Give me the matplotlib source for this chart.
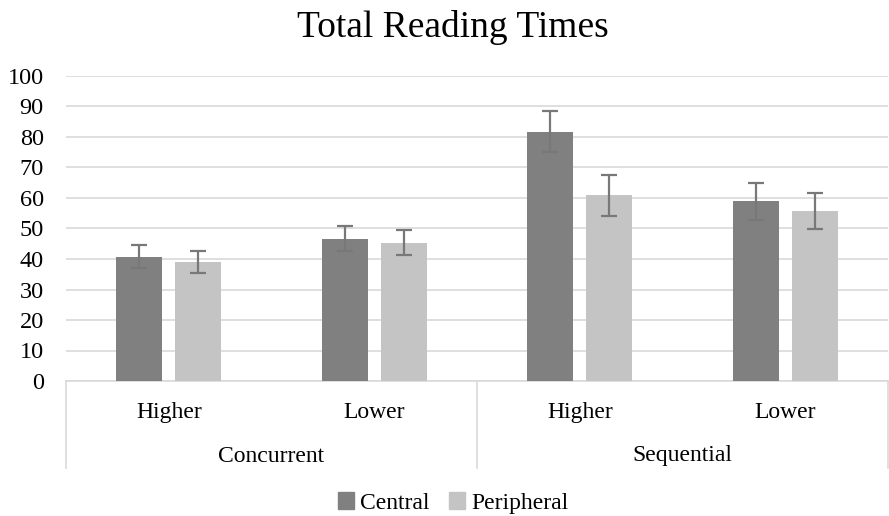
import matplotlib
matplotlib.use('Agg')
import matplotlib.pyplot as plt
import numpy as np
from matplotlib.transforms import blended_transform_factory
from matplotlib.patches import Patch

groups = ['Concurrent', 'Sequential']
levels = ['Higher', 'Lower', 'Higher', 'Lower']
series = ['Central', 'Peripheral']
central = [40.7, 46.7, 81.8, 58.9]
central_err = [3.8, 4.0, 6.8, 6.0]
peripheral = [39.0, 45.4, 60.9, 55.7]
peripheral_err = [3.7, 4.0, 6.8, 5.9]
yticks = [0, 10, 20, 30, 40, 50, 60, 70, 80, 90, 100]

c_central = '#808080'
c_periph = '#c4c4c4'
c_err = '#787878'
c_grid = '#d9d9d9'

plt.rcParams['font.family'] = ['Liberation Serif', 'DejaVu Serif']

fig = plt.figure(figsize=(8.89, 5.16), dpi=100)
ax = fig.add_axes([66/889, 1-381/516, 822/889, (381-76)/516])

x = np.arange(len(levels))
w = 0.224
off = 0.1435
ax.bar(x - off, central, w, color=c_central, zorder=3)
ax.bar(x + off, peripheral, w, color=c_periph, zorder=3)
ax.errorbar(x - off, central, yerr=central_err, fmt='none', ecolor=c_err,
            elinewidth=1.6, capsize=6, capthick=1.6, zorder=4)
ax.errorbar(x + off, peripheral, yerr=peripheral_err, fmt='none', ecolor=c_err,
            elinewidth=1.6, capsize=6, capthick=1.6, zorder=4)

ax.set_xlim(-0.5, len(levels) - 0.5)
ax.set_ylim(0, 100)
ax.set_yticks(yticks)
ax.set_yticklabels([str(t) for t in yticks], fontsize=17.5)
ax.tick_params(axis='y', length=0, pad=16)
ax.set_xticks([])
ax.yaxis.grid(True, color=c_grid, linewidth=1.2, zorder=0)
for s in ['top', 'right', 'left']:
    ax.spines[s].set_visible(False)
ax.spines['bottom'].set_color(c_grid)
ax.spines['bottom'].set_linewidth(1.2)

tr = blended_transform_factory(ax.transData, fig.transFigure)
for i, lab in enumerate(levels):
    ax.text(x[i], 1-418/516, lab, transform=tr, ha='center', va='baseline', fontsize=17)
n_per = len(levels) // len(groups)
for g, gl in enumerate(groups):
    cx = (x[g*n_per] + x[g*n_per + n_per - 1]) / 2
    ax.text(cx, 1-461.5/516, gl, transform=tr, ha='center', va='baseline', fontsize=17)
for b in range(len(groups) + 1):
    xb = b * n_per - 0.5
    ax.plot([xb, xb], [1-381/516, 1-468/516], transform=tr, color=c_grid,
            linewidth=1.2, clip_on=False)

fig.text(453/889, 1-37/516, 'Total Reading Times', ha='center', va='baseline', fontsize=27)

handles = [Patch(color=c_central, label=series[0]), Patch(color=c_periph, label=series[1])]
fig.legend(handles=handles, loc='center', bbox_to_anchor=(453/889, 1-503/516), ncol=2,
           frameon=False, fontsize=17, handlelength=0.7, handleheight=0.7,
           handletextpad=0.25, columnspacing=0.8)

fig.savefig('out.png', dpi=100)
